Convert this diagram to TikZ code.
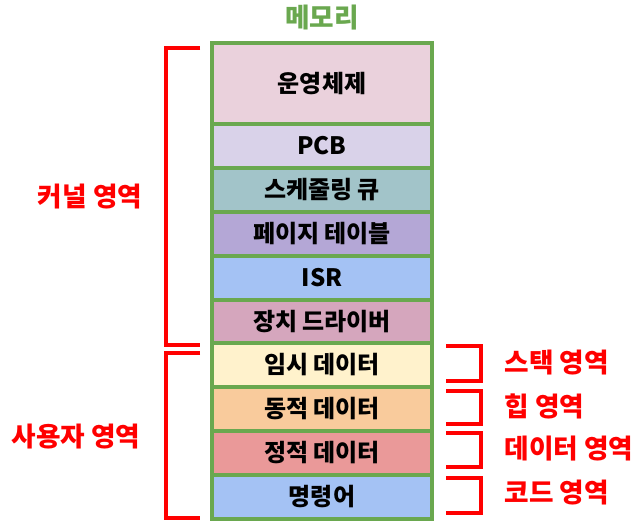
\documentclass[tikz,border=0pt]{standalone}
\usepackage{fontspec}
\setmainfont{Noto Sans CJK KR}
\definecolor{gborder}{HTML}{6AA84F}
\definecolor{cOS}{HTML}{EAD1DC}
\definecolor{cPCB}{HTML}{D9D2E9}
\definecolor{cSch}{HTML}{A2C4C9}
\definecolor{cPage}{HTML}{B4A7D6}
\definecolor{cISR}{HTML}{A4C2F4}
\definecolor{cDev}{HTML}{D5A6BD}
\definecolor{cTmp}{HTML}{FFF2CC}
\definecolor{cDyn}{HTML}{F9CB9C}
\definecolor{cSta}{HTML}{EA9999}
\definecolor{cIns}{HTML}{A4C2F4}
\definecolor{bred}{HTML}{FF0000}
\begin{document}
\begin{tikzpicture}[x=0.75pt,y=-0.75pt,
  box/.style={draw=gborder,line width=3pt,minimum width=165pt,inner sep=0pt,
    font=\fontsize{18}{21}\selectfont\bfseries,text=black},
  brk/.style={draw=bred,line width=2.4pt},
  redlbl/.style={font=\fontsize{20}{24}\selectfont\bfseries,text=bred},
  titlelbl/.style={font=\fontsize{20}{24}\selectfont\bfseries,text=gborder}]
\useasboundingbox (0,0) rectangle (642,529);
\node[titlelbl] (title) at (322,18) {메모리};
\node[box,fill=cOS,minimum height=60.75pt] (os) at (322,83.5) {운영체제};
\node[box,fill=cPCB,minimum height=33pt] (pcb) at (322,146) {PCB};
\node[box,fill=cSch,minimum height=33pt] (sch) at (322,190) {스케줄링 큐};
\node[box,fill=cPage,minimum height=33pt] (page) at (322,234) {페이지 테이블};
\node[box,fill=cISR,minimum height=33pt] (isr) at (322,278) {ISR};
\node[box,fill=cDev,minimum height=32.25pt] (dev) at (322,321.5) {장치 드라이버};
\node[box,fill=cTmp,minimum height=33pt] (tmp) at (322,365) {임시 데이터};
\node[box,fill=cDyn,minimum height=33pt] (dyn) at (322,409) {동적 데이터};
\node[box,fill=cSta,minimum height=33pt] (sta) at (322,453) {정적 데이터};
\node[box,fill=cIns,minimum height=33pt] (ins) at (322,497) {명령어};
% left brackets
\draw[brk] (200,48) -- (166,48) -- (166,345) -- (200,345);
\draw[brk] (200,353) -- (166,353) -- (166,518) -- (200,518);
\node[redlbl] (kern) at (90,197) {커널 영역};
\node[redlbl] (user) at (76,437) {사용자 영역};
% right brackets
\draw[brk] (446,346) -- (481,346) -- (481,381) -- (446,381);
\draw[brk] (446,391) -- (481,391) -- (481,424) -- (446,424);
\draw[brk] (446,433) -- (481,433) -- (481,467) -- (446,467);
\draw[brk] (446,478) -- (481,478) -- (481,513) -- (446,513);
\node[redlbl,anchor=west] (stack) at (500,363) {스택 영역};
\node[redlbl,anchor=west] (heap) at (500,406) {힙 영역};
\node[redlbl,anchor=west] (data) at (500,449) {데이터 영역};
\node[redlbl,anchor=west] (code) at (500,493) {코드 영역};
\end{tikzpicture}
\end{document}
